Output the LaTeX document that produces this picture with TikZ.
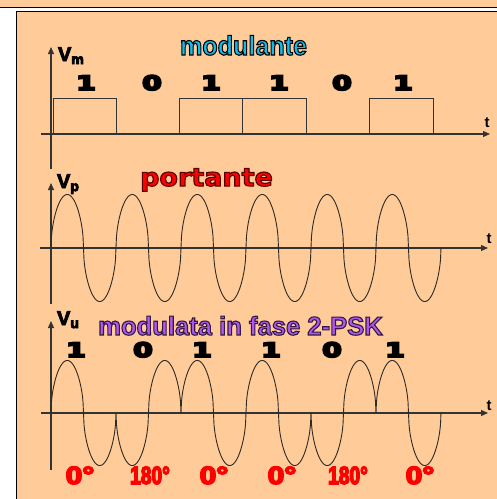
\documentclass[tikz,border=0pt]{standalone}
\usepackage{fontspec}
\setmainfont{Liberation Sans}
\newfontfamily\dvs{DejaVu Sans}
\usetikzlibrary{arrows.meta}
\definecolor{peach}{HTML}{FFCC99}
\definecolor{ink}{HTML}{333333}
\definecolor{wavec}{HTML}{2E2A26}
\definecolor{cyanlbl}{HTML}{11BBEE}
\definecolor{purplbl}{HTML}{AE58F0}
\definecolor{redlbl}{HTML}{FF0000}
\newcommand{\outl}[2]{\special{pdf:literal direct #1 RG 2 Tr 1.1 w}#2\special{pdf:literal direct 0 Tr}}
\newcommand{\fat}[2]{\special{pdf:literal direct 2 Tr #1 w}#2\special{pdf:literal direct 0 Tr}}
\begin{document}
\begin{tikzpicture}[x=1pt,y=-1pt,
  declare function={wv(\t)=(sin(\t)<0 ? -1 : 1)*(abs(sin(\t))+0.00001)^0.5;},
  lbl/.style={inner sep=0pt,outer sep=0pt,anchor=base},
  axisline/.style={draw=ink,line width=1.2pt,-{Triangle[length=7pt,width=6pt]}},
  boxline/.style={draw=ink,line width=1pt},
  wave/.style={draw=wavec,line width=0.9pt,line join=round},
  bit/.style={lbl,font=\dvs\bfseries\fontsize{20}{20}\selectfont},
  phase/.style={lbl,text=redlbl,font=\bfseries\fontsize{25}{25}\selectfont},
  vlab/.style={lbl,anchor=base west,font=\bfseries\fontsize{20}{20}\selectfont},
  tlab/.style={lbl,font=\bfseries\fontsize{15}{15}\selectfont}]
\useasboundingbox (0,0) rectangle (497,499);
% background and frame
\fill[peach] (0,0) rectangle (497,499);
\fill[white] (0,8) rectangle (497,11);
\fill[white] (0,8) rectangle (16,499);
\draw[black,line width=1pt] (0,7.5) -- (497,7.5);
\draw[black,line width=1.2pt] (16.5,499) -- (16.5,11.5) -- (497,11.5);

% ---------- plot 1: modulante ----------
\coordinate (a1s) at (51,169); \coordinate (a1e) at (51,47);
\coordinate (h1s) at (41,134); \coordinate (h1e) at (490,134);
\draw[axisline] (a1s) -- (a1e);
\draw[axisline] (h1s) -- (h1e);
\draw[boxline] (53,134) rectangle (116,98);
\draw[boxline] (179,134) rectangle (242,98);
\draw[boxline] (242,134) rectangle (306,98);
\draw[boxline] (369,134) rectangle (433,98);
\node[vlab] (vm) at (58,61) {\fat{0.9}{V}{\fontsize{14}{14}\selectfont\raisebox{-3pt}{\fat{0.9}{m}}}};
\node[tlab] (t1) at (487,127) {t};
\node[lbl,text=cyanlbl,font=\bfseries\fontsize{27}{27}\selectfont] (tmod) at (243.5,55) {\scalebox{0.93}[1]{\outl{0 0 0}{modulante}}};
\node[bit] (b11) at (86,90) {\scalebox{1.4}[1]{\fat{1.8}{1}}};
\node[bit] (b12) at (152,90) {\scalebox{1.4}[1]{\fat{1.8}{0}}};
\node[bit] (b13) at (211,90) {\scalebox{1.4}[1]{\fat{1.8}{1}}};
\node[bit] (b14) at (279,90) {\scalebox{1.4}[1]{\fat{1.8}{1}}};
\node[bit] (b15) at (342,90) {\scalebox{1.4}[1]{\fat{1.8}{0}}};
\node[bit] (b16) at (403,90) {\scalebox{1.4}[1]{\fat{1.8}{1}}};

% ---------- plot 2: portante ----------
\coordinate (a2s) at (51,304); \coordinate (a2e) at (51,183);
\coordinate (h2s) at (40,248); \coordinate (h2e) at (488,248);
\draw[axisline] (a2s) -- (a2e);
\draw[axisline] (h2s) -- (h2e);
\draw[wave] plot[domain=51:441,samples=781] (\x,{248-53.5*wv(5.53846*(\x-51))});
\node[vlab] (vp) at (57,188) {\fat{0.9}{V}{\fontsize{14}{14}\selectfont\raisebox{-3pt}{\fat{0.9}{p}}}};
\node[tlab] (t2) at (489,243) {t};
\node[lbl,text=redlbl,font=\dvs\bfseries\fontsize{25}{25}\selectfont] (tport) at (206.5,186) {\scalebox{1.08}[1]{\outl{0.35 0 0}{portante}}};

% ---------- plot 3: modulata ----------
\coordinate (a3s) at (51,470); \coordinate (a3e) at (51,321);
\coordinate (h3s) at (41,413); \coordinate (h3e) at (488,413);
\draw[axisline] (a3s) -- (a3e);
\draw[axisline] (h3s) -- (h3e);
\draw[wave] plot[domain=51:116,samples=131] (\x,{413-52.5*wv(5.53846*(\x-51))})
  -- plot[domain=116:181,samples=131] (\x,{413+52.5*wv(5.53846*(\x-51))})
  -- plot[domain=181:246,samples=131] (\x,{413-52.5*wv(5.53846*(\x-51))})
  -- plot[domain=246:311,samples=131] (\x,{413-52.5*wv(5.53846*(\x-51))})
  -- plot[domain=311:376,samples=131] (\x,{413+52.5*wv(5.53846*(\x-51))})
  -- plot[domain=376:441,samples=131] (\x,{413-52.5*wv(5.53846*(\x-51))});
\node[vlab] (vu) at (57,325) {\fat{0.9}{V}{\fontsize{14}{14}\selectfont\raisebox{-3pt}{\fat{0.9}{u}}}};
\node[tlab] (t3) at (489,410) {t};
\node[lbl,text=purplbl,font=\bfseries\fontsize{26}{26}\selectfont] (tpsk) at (240.5,335) {\scalebox{0.985}[1]{\outl{0.2 0.1 0.25}{modulata in fase 2-PSK}}};
\node[bit] (b31) at (76,357) {\scalebox{1.4}[1]{\fat{1.8}{1}}};
\node[bit] (b32) at (143,357) {\scalebox{1.4}[1]{\fat{1.8}{0}}};
\node[bit] (b33) at (202,357) {\scalebox{1.4}[1]{\fat{1.8}{1}}};
\node[bit] (b34) at (271,357) {\scalebox{1.4}[1]{\fat{1.8}{1}}};
\node[bit] (b35) at (332,357) {\scalebox{1.4}[1]{\fat{1.8}{0}}};
\node[bit] (b36) at (395,357) {\scalebox{1.4}[1]{\fat{1.8}{1}}};
\node[phase] (p1) at (80,484) {\scalebox{1.2}[1]{\fat{1.5}{0°}}};
\node[phase] (p2) at (150,484) {\scalebox{0.77}[1]{\fat{1.5}{180°}}};
\node[phase] (p3) at (214,484) {\scalebox{1.2}[1]{\fat{1.5}{0°}}};
\node[phase] (p4) at (282,484) {\scalebox{1.2}[1]{\fat{1.5}{0°}}};
\node[phase] (p5) at (348,484) {\scalebox{0.77}[1]{\fat{1.5}{180°}}};
\node[phase] (p6) at (420,484) {\scalebox{1.2}[1]{\fat{1.5}{0°}}};
\end{tikzpicture}
\end{document}
